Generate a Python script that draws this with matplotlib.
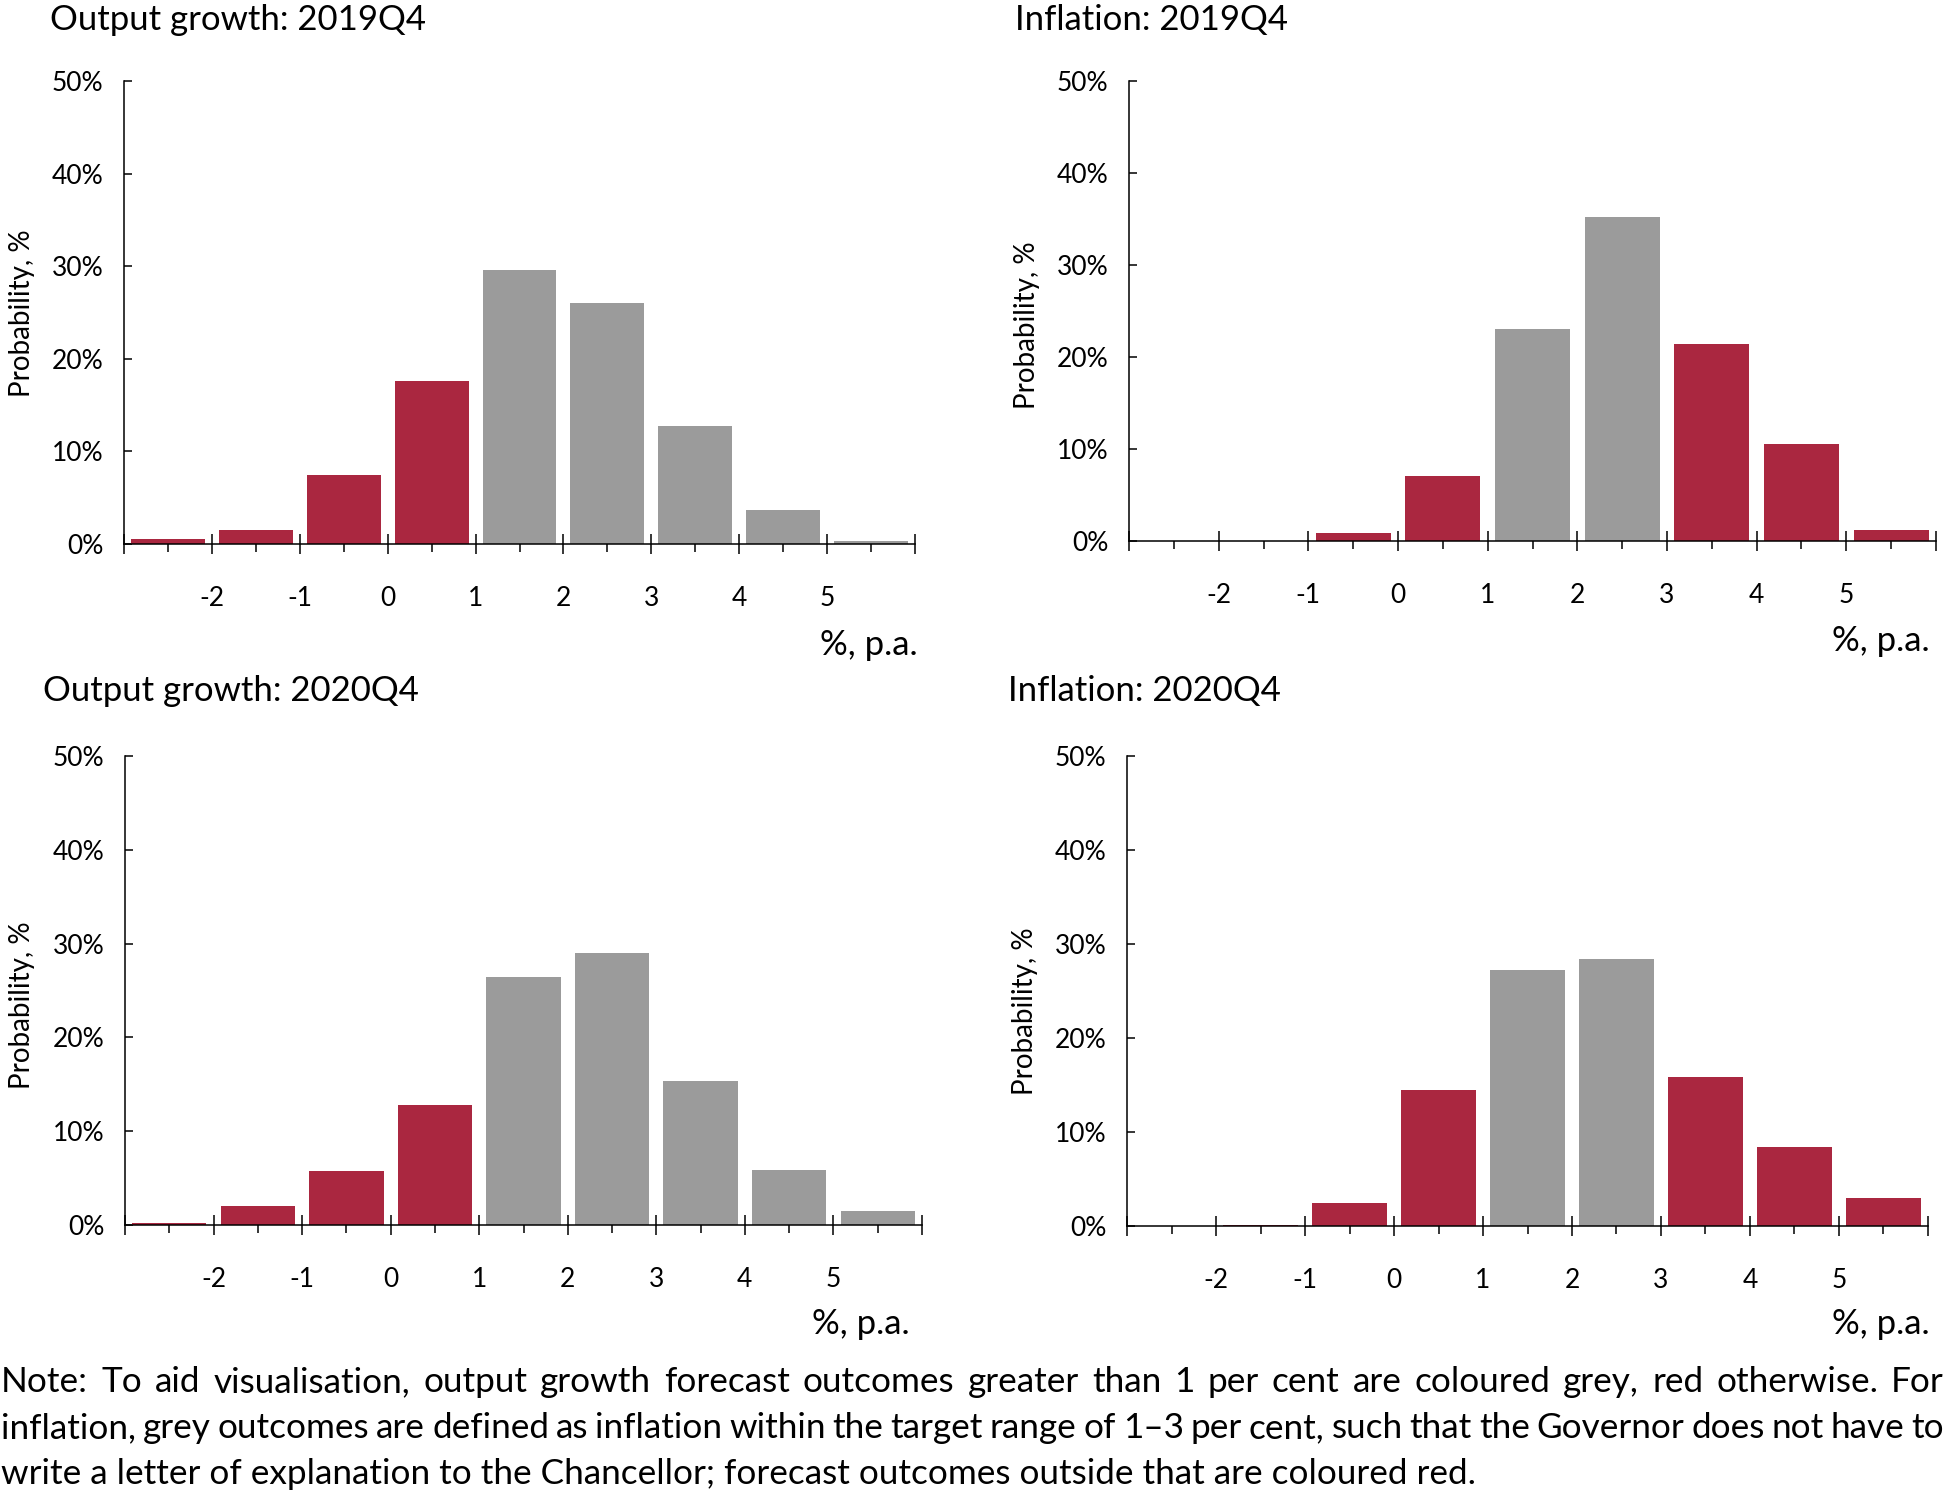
import matplotlib
matplotlib.use('Agg')
import matplotlib.pyplot as plt
import numpy as np

plt.rcParams['font.family'] = ['Lato', 'DejaVu Sans']

W, H = 1946, 1497
RED = '#aa2740'
GREY = '#9b9b9b'

# 9 outcome bins, labels sit on the inner edges
edge_labels = ['', '-2', '-1', '0', '1', '2', '3', '4', '5', '']

growth_2019 = [0.5, 1.5, 7.5, 17.6, 29.6, 26.0, 12.7, 3.7, 0.3]
infl_2019 = [0.0, 0.0, 0.9, 7.1, 23.0, 35.2, 21.4, 10.5, 1.2]
growth_2020 = [0.2, 2.0, 5.8, 12.8, 26.4, 29.0, 15.4, 5.9, 1.5]
infl_2020 = [0.0, 0.15, 2.4, 14.5, 27.2, 28.4, 15.8, 8.4, 3.0]

growth_grey = [False, False, False, False, True, True, True, True, True]
infl_grey = [False, False, False, False, True, True, False, False, False]

titles = ['Output growth: 2019Q4', 'Inflation: 2019Q4',
          'Output growth: 2020Q4', 'Inflation: 2020Q4']

note_lines = [
    'Note: To aid visualisation, output growth forecast outcomes greater than 1 per cent are coloured grey, red otherwise. For',
    'inflation, grey outcomes are defined as inflation within the target range of 1\u20133 per cent, such that the Governor does not have to',
    'write a letter of explanation to the Chancellor; forecast outcomes outside that are coloured red.',
]

fig = plt.figure(figsize=(W / 100, H / 100), dpi=100)
r = fig.canvas.get_renderer()


def text_width(s, size):
    t = fig.text(0, 0, s, fontsize=size)
    w = t.get_window_extent(r).width
    t.remove()
    return w


def fit_size(s, width_px):
    return 10 * width_px / text_width(s, 10)


# pixel boxes: left, top, right, bottom
boxes = [(124, 81, 915, 544), (1129, 81, 1936, 541),
         (125, 756, 922, 1225), (1127, 756, 1928, 1226)]
title_pos = [(50, 30), (1015, 30), (43, 701), (1008, 701)]
ylab_pos = [(22, 313), (1027, 325), (22, 1005), (1025, 1011)]
xlab_pos = [(918, 655), (1930, 651), (910, 1334), (1930, 1334)]

data = [(growth_2019, growth_grey), (infl_2019, infl_grey),
        (growth_2020, growth_grey), (infl_2020, infl_grey)]

title_size = fit_size(titles[0], 376)
ylab_size = fit_size('Probability, %', 168)
tick_size = 19

x = np.arange(9) + 0.5
for i, (vals, grey) in enumerate(data):
    l, t, rr, b = boxes[i]
    ax = fig.add_axes([l / W, 1 - b / H, (rr - l) / W, (b - t) / H])
    colors = [GREY if g else RED for g in grey]
    ax.bar(x, vals, width=0.84, color=colors, edgecolor='none', zorder=2)
    ax.set_xlim(0, 9)
    ax.set_ylim(0, 50)
    ax.set_yticks([0, 10, 20, 30, 40, 50])
    ax.set_yticklabels([f'{v}%' for v in range(0, 60, 10)])
    ax.set_xticks(np.arange(10))
    ax.set_xticklabels(edge_labels)
    ax.set_xticks(x, minor=True)
    ax.spines['top'].set_visible(False)
    ax.spines['right'].set_visible(False)
    for s in ['left', 'bottom']:
        ax.spines[s].set_linewidth(1.1)
    ax.tick_params(axis='y', direction='in', length=5.5, width=1.1,
                   labelsize=tick_size, pad=15)
    ax.tick_params(axis='x', which='major', direction='inout', length=14,
                   width=1.1, labelsize=tick_size, pad=23)
    ax.tick_params(axis='x', which='minor', direction='out', length=5.5,
                   width=1.1)
    ax.patch.set_visible(False)

    tx, ty = title_pos[i]
    fig.text(tx / W, 1 - ty / H, titles[i], fontsize=title_size,
             ha='left', va='baseline')
    yx, yy = ylab_pos[i]
    fig.text(yx / W, 1 - yy / H, 'Probability, %', fontsize=ylab_size,
             rotation=90, ha='center', va='center')
    xx, xy = xlab_pos[i]
    fig.text(xx / W, 1 - xy / H, '%, p.a.', fontsize=title_size,
             ha='right', va='baseline')

# note, first two lines justified across the full width
note_size = fit_size(note_lines[2], 1477)
baselines = [1392, 1438, 1484]
for j, line in enumerate(note_lines):
    yb = 1 - baselines[j] / H
    if j == len(note_lines) - 1:
        fig.text(1 / W, yb, line, fontsize=note_size, ha='left', va='baseline')
        continue
    words = line.split()
    widths = [text_width(wd, note_size) for wd in words]
    gap = (W - 3 - sum(widths)) / (len(words) - 1)
    xp = 1
    for wd, ww in zip(words, widths):
        fig.text(xp / W, yb, wd, fontsize=note_size, ha='left', va='baseline')
        xp += ww + gap

fig.savefig('out.png', dpi=100)
